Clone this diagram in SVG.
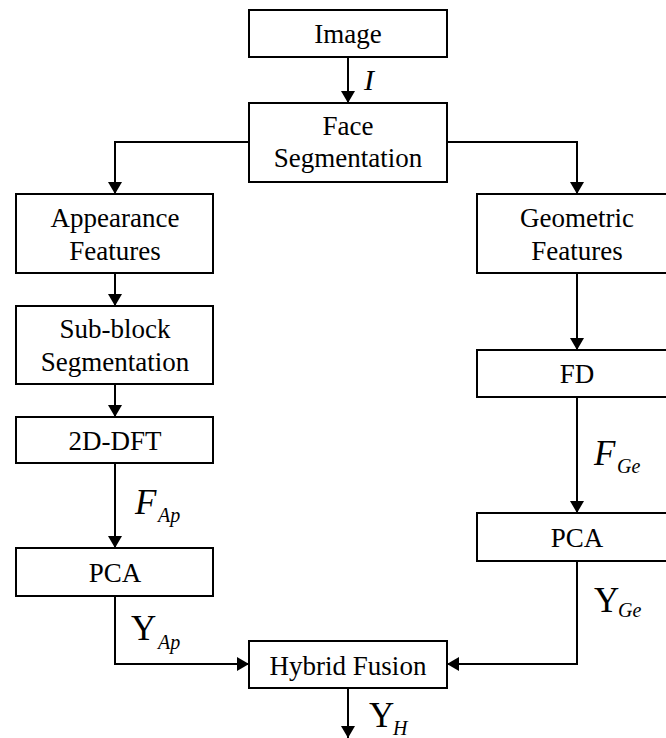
<svg xmlns="http://www.w3.org/2000/svg" width="666" height="738" viewBox="0 0 666 738" font-family="Liberation Serif, Tinos, Times New Roman, Times, DejaVu Serif, Noto Serif, FreeSerif, serif">
<defs>
<marker id="arr" markerUnits="userSpaceOnUse" markerWidth="12" markerHeight="14" viewBox="0 0 12 14" refX="12" refY="7" orient="auto">
<path d="M0,0 L12,7 L0,14 Z" fill="#000"/>
</marker>
<style>
.box{fill:#fff;stroke:#000;stroke-width:2}
.t{font-size:27px;text-anchor:middle;fill:#000}
.c{fill:none;stroke:#000;stroke-width:2;marker-end:url(#arr)}
.m{fill:#000}
.big{font-size:35px}
.sub{font-size:20px;font-style:italic}
</style>
</defs>
<rect width="666" height="738" fill="#fff"/>
<g id="connectors">
<path class="c" d="M348,57 V103"/>
<path class="c" d="M249,142 H115 V194"/>
<path class="c" d="M447,142 H577 V194"/>
<path class="c" d="M115,273 V306"/>
<path class="c" d="M115,384 V417"/>
<path class="c" d="M115,463 V548"/>
<path class="c" d="M577,273 V350"/>
<path class="c" d="M577,397 V513"/>
<path class="c" d="M115,596 V664 H249"/>
<path class="c" d="M577,561 V664 H447"/>
<path class="c" d="M348,688 V738"/>
</g>
<g id="labels">
<text class="m" x="364" y="90" font-size="30" font-style="italic">I</text>
<text class="m" x="135" y="514"><tspan class="big" font-style="italic">F</tspan><tspan class="sub" x="158" y="522">Ap</tspan></text>
<text class="m" x="594" y="465"><tspan class="big" font-style="italic">F</tspan><tspan class="sub" x="617" y="473">Ge</tspan></text>
<text class="m" x="131" y="640"><tspan class="big">Y</tspan><tspan class="sub" x="158" y="649">Ap</tspan></text>
<text class="m" x="594" y="612"><tspan class="big">Y</tspan><tspan class="sub" x="618" y="617">Ge</tspan></text>
<text class="m" x="369" y="727"><tspan class="big">Y</tspan><tspan class="sub" x="393" y="735">H</tspan></text>
</g>
<g id="image"><rect class="box" x="249" y="10" width="198" height="47"/><text class="t" x="348" y="43">Image</text></g>
<g id="face-segmentation"><rect class="box" x="249" y="103" width="198" height="79"/><text class="t" x="348" y="135">Face</text><text class="t" x="348" y="167">Segmentation</text></g>
<g id="appearance-features"><rect class="box" x="16" y="194" width="197" height="79"/><text class="t" x="115" y="227">Appearance</text><text class="t" x="115" y="260">Features</text></g>
<g id="sub-block-segmentation"><rect class="box" x="16" y="306" width="197" height="78"/><text class="t" x="115" y="338">Sub-block</text><text class="t" x="115" y="371">Segmentation</text></g>
<g id="dft"><rect class="box" x="16" y="417" width="197" height="46"/><text class="t" x="115" y="450">2D-DFT</text></g>
<g id="pca-left"><rect class="box" x="16" y="548" width="197" height="48"/><text class="t" x="115" y="582">PCA</text></g>
<g id="geometric-features"><rect class="box" x="477" y="194" width="200" height="79"/><text class="t" x="577" y="227">Geometric</text><text class="t" x="577" y="260">Features</text></g>
<g id="fd"><rect class="box" x="477" y="350" width="200" height="47"/><text class="t" x="577" y="383">FD</text></g>
<g id="pca-right"><rect class="box" x="477" y="513" width="200" height="48"/><text class="t" x="577" y="547">PCA</text></g>
<g id="hybrid-fusion"><rect class="box" x="249" y="641" width="198" height="47"/><text class="t" x="348" y="675">Hybrid Fusion</text></g>
</svg>
